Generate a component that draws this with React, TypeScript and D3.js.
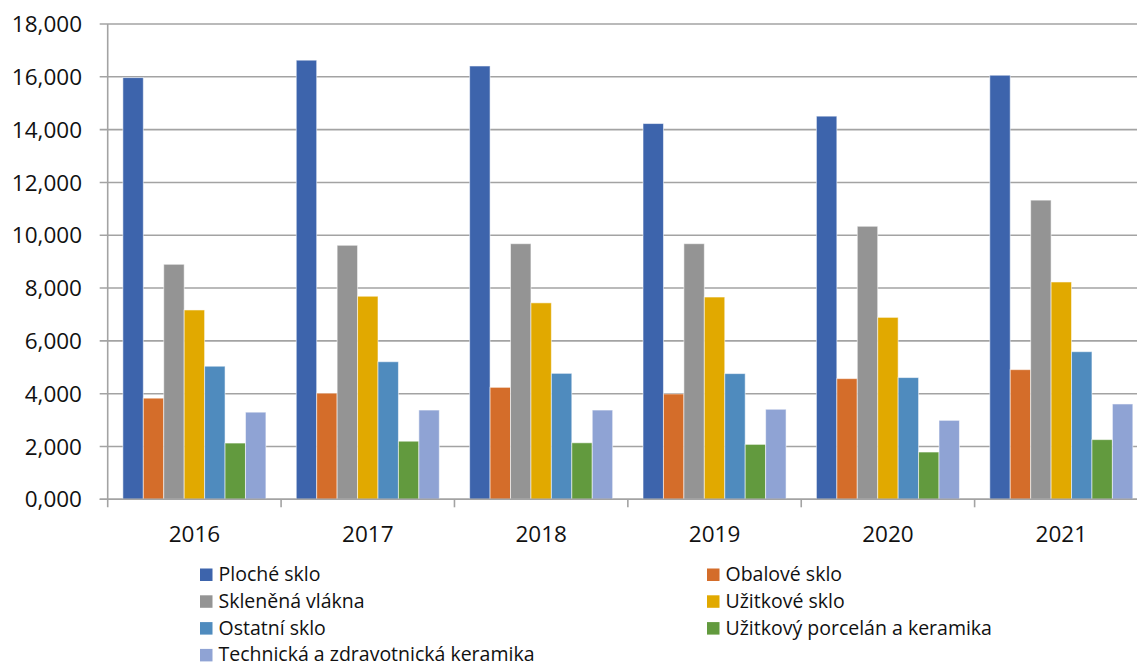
import React, { useRef, useEffect } from "react";
import * as d3 from "d3";

const years = ["2016", "2017", "2018", "2019", "2020", "2021"];

const seriesNames = [
  "Ploché sklo",
  "Obalové sklo",
  "Skleněná vlákna",
  "Užitkové sklo",
  "Ostatní sklo",
  "Užitkový porcelán a keramika",
  "Technická a zdravotnická keramika",
];

const seriesColors = ["#3d64ac", "#d46d2a", "#949494", "#e1a900", "#4f8bbe", "#629a3e", "#8fa3d4"];

// values per series, one per year
const plocheSklo = [15970, 16630, 16410, 14230, 14510, 16060];
const obaloveSklo = [3830, 4020, 4240, 3990, 4570, 4910];
const sklenenaVlakna = [8900, 9620, 9680, 9680, 10340, 11330];
const uzitkoveSklo = [7170, 7690, 7440, 7660, 6890, 8230];
const ostatniSklo = [5040, 5210, 4770, 4760, 4610, 5590];
const porcelanKeramika = [2130, 2200, 2140, 2080, 1790, 2260];
const technickaKeramika = [3300, 3380, 3380, 3410, 2990, 3610];

const seriesValues = [
  plocheSklo, obaloveSklo, sklenenaVlakna, uzitkoveSklo,
  ostatniSklo, porcelanKeramika, technickaKeramika,
];

const yTicks = [0, 2000, 4000, 6000, 8000, 10000, 12000, 14000, 16000, 18000];

function App() {
  const svgRef = useRef();
  const width = 1137;
  const height = 666;
  const plotLeft = 107.7;
  const plotRight = 1148; // chart is cut off on the right in the source
  const plotTop = 24;
  const plotBottom = 499.3;
  const font = "'Open Sans', sans-serif";

  useEffect(() => {
    const svg = d3.select(svgRef.current);
    svg.selectAll("*").remove();

    svg.attr("width", width).attr("height", height);

    const x0 = d3.scaleBand().domain(years).range([plotLeft, plotRight]).padding(0);
    const gap = x0.bandwidth() * 0.0875;
    const x1 = d3.scaleBand().domain(seriesNames).range([gap, x0.bandwidth() - gap]).padding(0);
    const y = d3.scaleLinear().domain([0, 18000]).range([plotBottom, plotTop]);

    // gridlines
    svg.append("g")
      .selectAll("line")
      .data(yTicks)
      .join("line")
      .attr("x1", plotLeft - 8)
      .attr("x2", plotRight)
      .attr("y1", d => y(d))
      .attr("y2", d => y(d))
      .attr("stroke", "#a3a3a3")
      .attr("stroke-width", 1.6);

    // y labels
    svg.append("g")
      .selectAll("text")
      .data(yTicks)
      .join("text")
      .attr("x", 82)
      .attr("y", d => y(d))
      .attr("dy", "0.36em")
      .attr("text-anchor", "end")
      .attr("font-family", font)
      .attr("font-size", 22.5)
      .attr("fill", "#111")
      .text(d => d3.format(",")(d).replace(/^0$/, "0,000"));

    // bars
    const groups = svg.append("g")
      .selectAll("g")
      .data(years)
      .join("g")
      .attr("transform", d => `translate(${x0(d)},0)`);

    groups.selectAll("rect")
      .data((d, yi) => seriesNames.map((s, si) => ({ s, si, v: seriesValues[si][yi] })))
      .join("rect")
      .attr("x", d => x1(d.s))
      .attr("width", x1.bandwidth())
      .attr("y", d => y(d.v))
      .attr("height", d => y(0) - y(d.v))
      .attr("fill", d => seriesColors[d.si])
      .attr("stroke", "#ffffff")
      .attr("stroke-opacity", 0.55)
      .attr("stroke-width", 1);

    // axes lines
    svg.append("line")
      .attr("x1", plotLeft).attr("x2", plotLeft)
      .attr("y1", plotTop).attr("y2", plotBottom + 8)
      .attr("stroke", "#a3a3a3").attr("stroke-width", 1.6);
    svg.append("line")
      .attr("x1", plotLeft - 8).attr("x2", plotRight)
      .attr("y1", plotBottom).attr("y2", plotBottom)
      .attr("stroke", "#a3a3a3").attr("stroke-width", 1.6);

    // category boundary ticks
    svg.append("g")
      .selectAll("line")
      .data(years.slice(1))
      .join("line")
      .attr("x1", d => x0(d))
      .attr("x2", d => x0(d))
      .attr("y1", plotBottom)
      .attr("y2", plotBottom + 8)
      .attr("stroke", "#a3a3a3")
      .attr("stroke-width", 1.6);

    // x labels
    svg.append("g")
      .selectAll("text")
      .data(years)
      .join("text")
      .attr("x", d => x0(d) + x0.bandwidth() / 2)
      .attr("y", 542.3)
      .attr("text-anchor", "middle")
      .attr("font-family", font)
      .attr("font-size", 22.5)
      .attr("fill", "#111")
      .text(d => d);

    // legend, two columns
    const legend = svg.append("g")
      .selectAll("g")
      .data(seriesNames)
      .join("g")
      .attr("transform", (d, i) => `translate(${i % 2 === 0 ? 200 : 707},${581 + Math.floor(i / 2) * 26.8})`);

    legend.append("rect")
      .attr("x", 0)
      .attr("y", -12.5)
      .attr("width", 12.5)
      .attr("height", 12.5)
      .attr("fill", (d, i) => seriesColors[i]);

    legend.append("text")
      .attr("x", 18.5)
      .attr("y", 0)
      .attr("font-family", font)
      .attr("font-size", 19.5)
      .attr("fill", "#111")
      .text(d => d);
  }, []);

  return (
    <div>
      <svg ref={svgRef} style={{ position: "absolute", left: 0, top: 0, overflow: "hidden" }}></svg>
    </div>
  );
}

export default App;
